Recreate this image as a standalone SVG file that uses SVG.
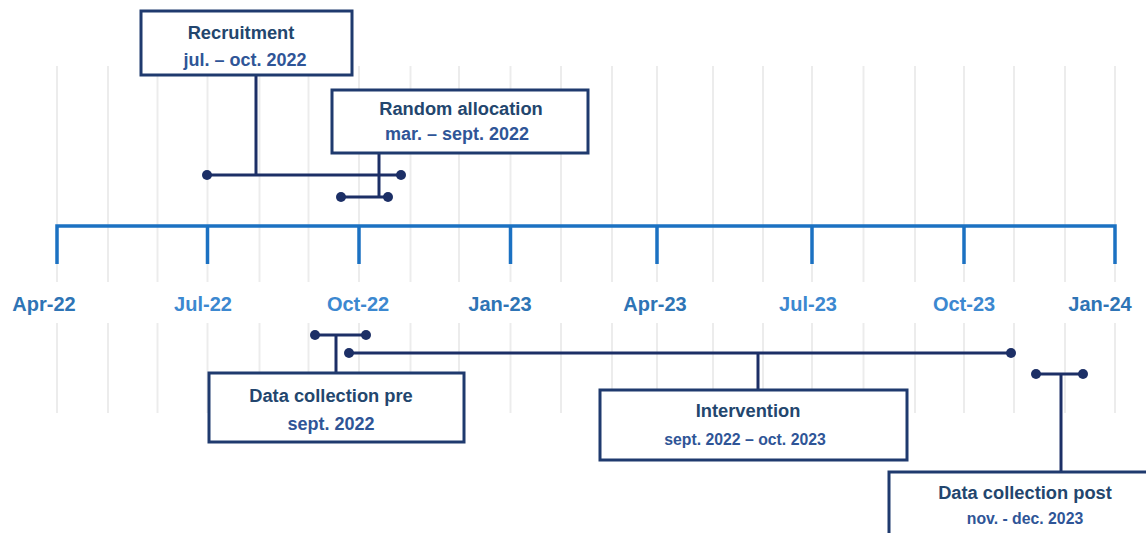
<svg xmlns="http://www.w3.org/2000/svg" width="1146" height="533" viewBox="0 0 1146 533">
<style>
.grid line{stroke:#ececec;stroke-width:2}
.axis{stroke:#1b71c2;stroke-width:3.5;fill:none}
.tl{font-family:"Liberation Sans",Arial,sans-serif;font-weight:bold;font-size:20px;text-anchor:middle;fill:#2e74b5}
.tl2{fill:#3c88d0}
.box{fill:#fff;stroke:#1f3a6e;stroke-width:3}
.t1{font-family:"Liberation Sans",Arial,sans-serif;font-weight:bold;font-size:18.3px;text-anchor:middle;fill:#23466e}
.t2{font-family:"Liberation Sans",Arial,sans-serif;font-weight:bold;font-size:18px;text-anchor:middle;fill:#2f5597}
.t3{font-size:15.8px}
.con line{stroke:#1c2f66;stroke-width:3}
.con circle{fill:#1c2f66}
</style>
<rect width="1146" height="533" fill="#fff"/>
<g class="grid">
<line x1="57" y1="66" x2="57" y2="282"/><line x1="108" y1="66" x2="108" y2="282"/><line x1="157.5" y1="66" x2="157.5" y2="282"/><line x1="207.5" y1="66" x2="207.5" y2="282"/><line x1="259.5" y1="66" x2="259.5" y2="282"/><line x1="308.5" y1="66" x2="308.5" y2="282"/><line x1="359" y1="66" x2="359" y2="282"/><line x1="410.5" y1="66" x2="410.5" y2="282"/><line x1="459" y1="66" x2="459" y2="282"/><line x1="510.5" y1="66" x2="510.5" y2="282"/><line x1="561" y1="66" x2="561" y2="282"/><line x1="612" y1="66" x2="612" y2="282"/><line x1="657" y1="66" x2="657" y2="282"/><line x1="713" y1="66" x2="713" y2="282"/><line x1="763" y1="66" x2="763" y2="282"/><line x1="812" y1="66" x2="812" y2="282"/><line x1="863.5" y1="66" x2="863.5" y2="282"/><line x1="915" y1="66" x2="915" y2="282"/><line x1="964" y1="66" x2="964" y2="282"/><line x1="1014" y1="66" x2="1014" y2="282"/><line x1="1065" y1="66" x2="1065" y2="282"/><line x1="1115" y1="66" x2="1115" y2="282"/>
<line x1="57" y1="323" x2="57" y2="413"/><line x1="108" y1="323" x2="108" y2="413"/><line x1="157.5" y1="323" x2="157.5" y2="413"/><line x1="207.5" y1="323" x2="207.5" y2="413"/><line x1="259.5" y1="323" x2="259.5" y2="413"/><line x1="308.5" y1="323" x2="308.5" y2="413"/><line x1="359" y1="323" x2="359" y2="413"/><line x1="410.5" y1="323" x2="410.5" y2="413"/><line x1="459" y1="323" x2="459" y2="413"/><line x1="510.5" y1="323" x2="510.5" y2="413"/><line x1="561" y1="323" x2="561" y2="413"/><line x1="612" y1="323" x2="612" y2="413"/><line x1="657" y1="323" x2="657" y2="413"/><line x1="713" y1="323" x2="713" y2="413"/><line x1="763" y1="323" x2="763" y2="413"/><line x1="812" y1="323" x2="812" y2="413"/><line x1="863.5" y1="323" x2="863.5" y2="413"/><line x1="915" y1="323" x2="915" y2="413"/><line x1="964" y1="323" x2="964" y2="413"/><line x1="1014" y1="323" x2="1014" y2="413"/><line x1="1065" y1="323" x2="1065" y2="413"/><line x1="1115" y1="323" x2="1115" y2="413"/>
</g>
<g id="axis">
<path class="axis" d="M57,264 V226 H1115 V264 M207.5,226 V264 M359,226 V264 M510.5,226 V264 M657,226 V264 M812,226 V264 M964,226 V264"/>
<text class="tl" x="44" y="311">Apr-22</text>
<text class="tl tl2" x="203" y="311">Jul-22</text>
<text class="tl tl2" x="358" y="311">Oct-22</text>
<text class="tl" x="500" y="311">Jan-23</text>
<text class="tl" x="655" y="311">Apr-23</text>
<text class="tl tl2" x="808" y="311">Jul-23</text>
<text class="tl tl2" x="964" y="311">Oct-23</text>
<text class="tl" x="1100" y="311">Jan-24</text>
</g>
<g id="connectors" class="con">
<line x1="256" y1="75" x2="256" y2="175"/><line x1="207" y1="175" x2="401" y2="175"/><circle cx="207" cy="175" r="5"/><circle cx="401" cy="175" r="5"/>
<line x1="379" y1="154" x2="379" y2="197"/><line x1="341" y1="197" x2="388" y2="197"/><circle cx="341" cy="197" r="5"/><circle cx="388" cy="197" r="5"/>
<line x1="315" y1="335" x2="366" y2="335"/><line x1="336" y1="335" x2="336" y2="372"/><circle cx="315" cy="335" r="5"/><circle cx="366" cy="335" r="5"/>
<line x1="349" y1="353" x2="1011" y2="353"/><line x1="758" y1="353" x2="758" y2="389"/><circle cx="349" cy="353" r="5"/><circle cx="1011" cy="353" r="5"/>
<line x1="1036" y1="374" x2="1083" y2="374"/><line x1="1061" y1="374" x2="1061" y2="471"/><circle cx="1036" cy="374" r="5"/><circle cx="1083" cy="374" r="5"/>
</g>
<g id="recruitment">
<rect class="box" x="141" y="11" width="211" height="64"/>
<text class="t1" x="241" y="39">Recruitment</text>
<text class="t2" x="245" y="66">jul. – oct. 2022</text>
</g>
<g id="random-allocation">
<rect class="box" x="332" y="90" width="256" height="63"/>
<text class="t1" x="461" y="115">Random allocation</text>
<text class="t2" x="457" y="140">mar. – sept. 2022</text>
</g>
<g id="data-collection-pre">
<rect class="box" x="209" y="373" width="255" height="69"/>
<text class="t1" x="331" y="402">Data collection pre</text>
<text class="t2" x="331" y="430">sept. 2022</text>
</g>
<g id="intervention">
<rect class="box" x="600" y="390" width="307" height="70"/>
<text class="t1" x="748" y="417">Intervention</text>
<text class="t2 t3" x="745" y="445">sept. 2022 – oct. 2023</text>
</g>
<g id="data-collection-post">
<rect class="box" x="889" y="472" width="300" height="100"/>
<text class="t1" x="1025" y="499">Data collection post</text>
<text class="t2 t3" x="1025" y="524">nov. - dec. 2023</text>
</g>
</svg>
